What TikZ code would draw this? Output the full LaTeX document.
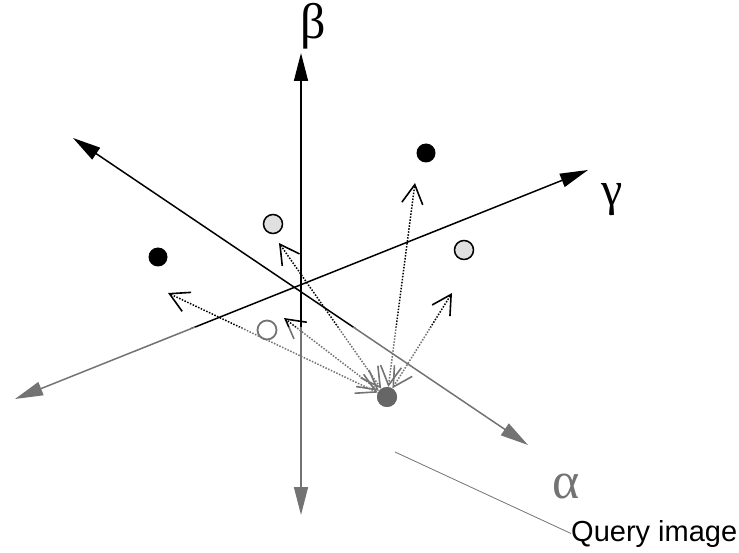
\documentclass[tikz,border=0pt]{standalone}
\usepackage{fontspec}
\newfontfamily\labelsans{Liberation Sans}
\newfontfamily\greekfont{Liberation Serif}
\usetikzlibrary{arrows.meta}
\colorlet{axc}{black}
\colorlet{fadegray}{black!55}
\tikzset{
  axis/.style={draw=axc, line width=1.5pt,
    {Triangle[length=28pt,width=14pt]}-{Triangle[length=28pt,width=14pt]}},
  qarrow/.style={draw=axc, dash pattern=on 1.5pt off 1.5pt, line width=1.5pt,
    {Straight Barb[length=19pt,width=21pt,line width=1.6pt]}-{Straight Barb[length=19pt,width=21pt,line width=1.6pt]}},
  blackdot/.style={circle, fill=black, minimum size=19pt, inner sep=0pt},
  shadedot/.style={circle, draw=black, line width=1.5pt, fill=black!12, minimum size=19pt, inner sep=0pt},
  opendot/.style={circle, draw=fadegray, line width=1.8pt, fill=white, minimum size=19pt, inner sep=0pt},
  querydot/.style={circle, fill=black!60, minimum size=20pt, inner sep=0pt},
  leader/.style={draw=black!55, line width=0.8pt},
  greeklabel/.style={inner sep=0pt, font=\greekfont},
}
\newcommand\axesandlinks{%
  \draw[axis] (ULt) -- (At);
  \draw[axis] (GLt) -- (Gt);
  \draw[axis] (Bb) -- (Bt);
  \draw[qarrow] (Q) -- (t1);
  \draw[qarrow] (Q) -- (t2);
  \draw[qarrow] (Q) -- (t3);
  \draw[qarrow] (Q) -- (t4);
  \draw[qarrow] (Q) -- (t5);
}
\begin{document}
\begin{tikzpicture}[x=1pt,y=-1pt]
\useasboundingbox (0,0) rectangle (739,553);
% axis end points
\coordinate (ULt) at (73,138);
\coordinate (At) at (528,445);
\coordinate (GLt) at (15,399);
\coordinate (Gt) at (588,170);
\coordinate (Bt) at (301,53);
\coordinate (Bb) at (301,515);
% arrow targets
\coordinate (t1) at (168,293);
\coordinate (t2) at (279,243);
\coordinate (t3) at (284,318);
\coordinate (t4) at (415,183);
\coordinate (t5) at (452,293);
% points
\node[querydot] (Q) at (387,397) {};
\node[blackdot] (D1) at (426,153) {};
\node[blackdot] (D2) at (158,257) {};
\node[shadedot] (S1) at (273,224) {};
\node[shadedot] (S2) at (464,250) {};
\node[opendot] (C1) at (267,330) {};
% axes and links: dark above, grey below
\begin{scope}
  \clip (0,0) rectangle (739,328);
  \colorlet{axc}{black}
  \axesandlinks
\end{scope}
\begin{scope}
  \clip (0,328) rectangle (739,553);
  \colorlet{axc}{fadegray}
  \axesandlinks
\end{scope}
\node[querydot] (Q2) at (Q) {};
% labels
\node[greeklabel] (beta) at (313,26) {\fontsize{50}{50}\selectfont β};
\node[greeklabel] (gamma) at (612,200) {\fontsize{48}{48}\selectfont γ};
\node[greeklabel, text=fadegray] (alpha) at (566,486) {\fontsize{52}{52}\selectfont α};
\node[anchor=base west, inner sep=0pt] (qlabel) at (571,541)
  {\labelsans\fontsize{29}{30}\selectfont Query image};
\coordinate (qs) at (395,452);
\draw[leader] (qs) -- (qlabel.west);
\end{tikzpicture}
\end{document}
